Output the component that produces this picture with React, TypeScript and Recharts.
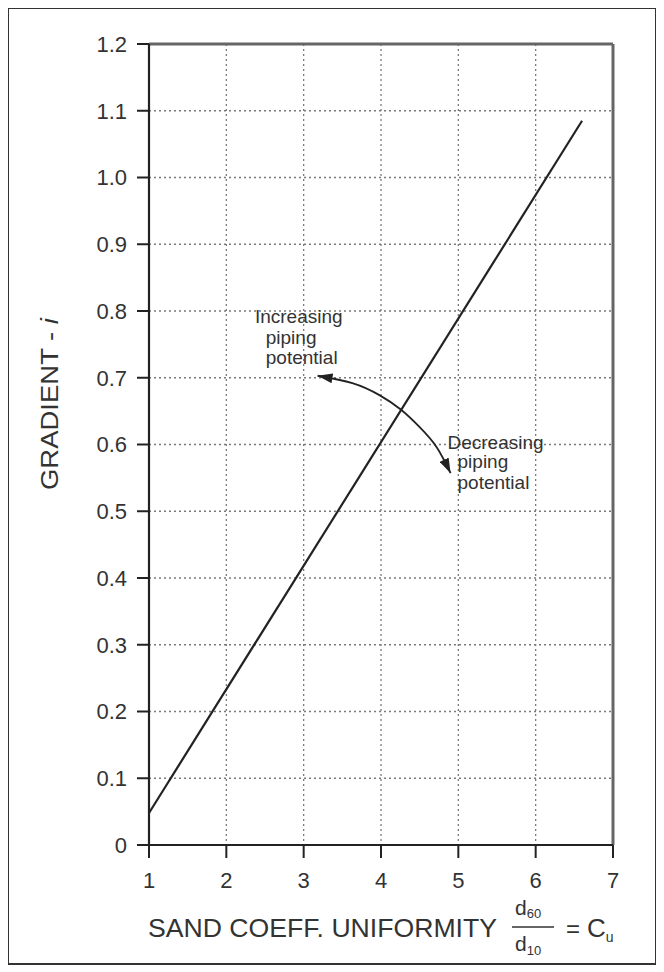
import React from 'react';
import { LineChart, Line, XAxis, YAxis, CartesianGrid, ReferenceLine, ReferenceDot } from 'recharts';

// tick values
const cuTicks = [1, 2, 3, 4, 5, 6, 7];
const gradientTicks = [0, 0.1, 0.2, 0.3, 0.4, 0.5, 0.6, 0.7, 0.8, 0.9, 1.0, 1.1, 1.2];

// piping criterion line (Cu vs gradient)
const cuValues = [1, 6.6];
const gradientValues = [0.048, 1.085];

// curved double arrow between the two notes
const arcCu = [3.18, 3.63, 3.98, 4.26, 4.5, 4.72, 4.9];
const arcGradient = [0.703, 0.692, 0.674, 0.652, 0.626, 0.596, 0.557];

// note text, anchored in data coords (left edge, middle of line)
const noteText = ['Increasing', 'piping', 'potential', 'Decreasing', 'piping', 'potential'];
const noteCu = [2.37, 2.51, 2.51, 4.86, 4.99, 4.99];
const noteGradient = [0.7925, 0.761, 0.7296, 0.6037, 0.5738, 0.5438];

const lineData = cuValues.map((x, i) => ({ x, y: gradientValues[i] }));
const arcData = arcCu.map((x, i) => ({ x, y: arcGradient[i] }));
const notes = noteText.map((text, i) => ({ text, x: noteCu[i], y: noteGradient[i] }));

const FONT = '"Liberation Sans", Arial, Helvetica, sans-serif';
const INK = '#222';

export default function App() {
    return (
        <div style={{
            position: 'relative', width: 650, height: 958, marginLeft: -1, marginTop: -1,
            border: '2px solid #333', boxSizing: 'border-box', background: '#fff', fontFamily: FONT
        }}>
            <div style={{ position: 'absolute', left: -2, top: -2 }}>
                <LineChart width={650} height={958} margin={{ top: 37, right: 44, bottom: 80, left: 62 }}>
                    <defs>
                        <marker id="arrowHead" markerUnits="userSpaceOnUse" markerWidth={16} markerHeight={10}
                            refX={15} refY={5} orient="auto-start-reverse">
                            <path d="M0,0 L15,5 L0,10 z" fill={INK} />
                        </marker>
                    </defs>
                    <CartesianGrid strokeDasharray="2 3" stroke="#7a7a7a" strokeWidth={1.3} />
                    <XAxis
                        type="number"
                        dataKey="x"
                        domain={[1, 7]}
                        ticks={cuTicks}
                        allowDataOverflow
                        height={40}
                        tickSize={13}
                        tickMargin={14}
                        axisLine={{ stroke: INK, strokeWidth: 2.2 }}
                        tickLine={{ stroke: INK, strokeWidth: 2 }}
                        tick={{ fill: '#333', fontSize: 22, fontFamily: FONT }}
                    />
                    <YAxis
                        type="number"
                        dataKey="y"
                        domain={[0, 1.2]}
                        ticks={gradientTicks}
                        allowDataOverflow
                        width={80}
                        tickSize={12}
                        tickMargin={10}
                        tickFormatter={(v: number) => (v === 0 ? '0' : v.toFixed(1))}
                        axisLine={{ stroke: INK, strokeWidth: 2.2 }}
                        tickLine={{ stroke: INK, strokeWidth: 2 }}
                        tick={{ fill: '#333', fontSize: 22, fontFamily: FONT }}
                    />
                    <ReferenceLine y={1.2} stroke="#666" strokeWidth={3} />
                    <ReferenceLine x={7} stroke="#666" strokeWidth={3} />
                    <Line
                        data={lineData}
                        dataKey="y"
                        type="linear"
                        stroke={INK}
                        strokeWidth={2.2}
                        dot={false}
                        activeDot={false}
                        isAnimationActive={false}
                    />
                    <Line
                        data={arcData}
                        dataKey="y"
                        type="natural"
                        stroke={INK}
                        strokeWidth={1.8}
                        dot={false}
                        activeDot={false}
                        markerStart="url(#arrowHead)"
                        markerEnd="url(#arrowHead)"
                        isAnimationActive={false}
                    />
                    {notes.map((n, i) => (
                        <ReferenceDot
                            key={i}
                            x={n.x}
                            y={n.y}
                            r={1}
                            shape={(p: any) => (
                                <text x={p.cx} y={p.cy} dominantBaseline="central" textAnchor="start"
                                    fontSize={19} fontFamily={FONT} fill="#333">{n.text}</text>
                            )}
                        />
                    ))}
                    {/* axis titles */}
                    <text x={43} y={397} transform="rotate(-90 43 397)" textAnchor="middle" dominantBaseline="central"
                        fontSize={23} fontFamily={FONT} fill="#333" textLength={172} lengthAdjust="spacingAndGlyphs">
                        GRADIENT - <tspan fontStyle="italic">i</tspan>
                    </text>
                    <text x={141} y={930} fontSize={26} fontFamily={FONT} fill="#333" textLength={349}
                        lengthAdjust="spacingAndGlyphs">SAND COEFF. UNIFORMITY</text>
                    <text x={508} y={908} fontSize={21} fontFamily={FONT} fill="#333">
                        d<tspan fontSize={13} dy={3}>60</tspan>
                    </text>
                    <line x1={505} x2={547} y1={920} y2={920} stroke="#333" strokeWidth={1.5} />
                    <text x={508} y={944} fontSize={21} fontFamily={FONT} fill="#333">
                        d<tspan fontSize={13} dy={4}>10</tspan>
                    </text>
                    <text x={559} y={930} fontSize={24} fontFamily={FONT} fill="#333">=</text>
                    <text x={580} y={930} fontSize={26} fontFamily={FONT} fill="#333">
                        C<tspan fontSize={14} dy={5}>u</tspan>
                    </text>
                </LineChart>
            </div>
        </div>
    );
}
